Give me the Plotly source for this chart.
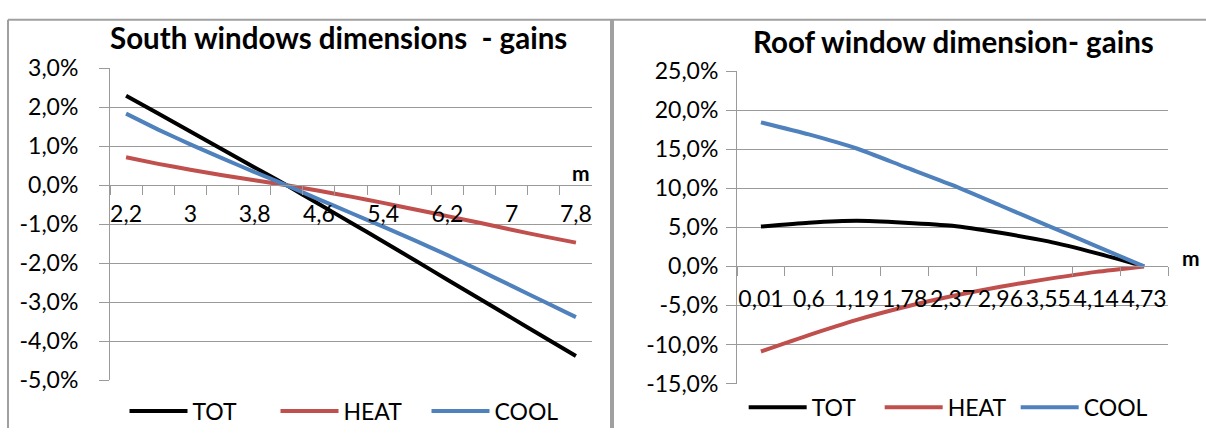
import plotly.graph_objects as go

# ---------------- data ----------------
south_labels = ["2,2", "2,6", "3", "3,4", "3,8", "4,2", "4,6", "5", "5,4", "5,8",
                "6,2", "6,6", "7", "7,4", "7,8"]
south_tot = [2.30, 1.84, 1.38, 0.92, 0.46, 0.00, -0.48, -0.96, -1.44, -1.93,
             -2.42, -2.91, -3.40, -3.89, -4.38]
south_heat = [0.72, 0.55, 0.40, 0.26, 0.13, 0.00, -0.14, -0.29, -0.45, -0.62,
              -0.79, -0.96, -1.14, -1.31, -1.47]
south_cool = [1.84, 1.43, 1.05, 0.69, 0.34, 0.00, -0.36, -0.71, -1.06, -1.42,
              -1.79, -2.18, -2.58, -2.98, -3.38]
south_yticks = [3, 2, 1, 0, -1, -2, -3, -4, -5]
south_yticktext = ["3,0%", "2,0%", "1,0%", "0,0%", "-1,0%", "-2,0%", "-3,0%", "-4,0%", "-5,0%"]

roof_labels = ["0,01", "0,6", "1,19", "1,78", "2,37", "2,96", "3,55", "4,14", "4,73"]
roof_tot = [5.1, 5.6, 5.85, 5.6, 5.2, 4.3, 3.2, 1.7, 0.0]
roof_heat = [-10.9, -8.8, -6.85, -5.2, -3.8, -2.6, -1.6, -0.7, 0.0]
roof_cool = [18.45, 16.9, 15.1, 12.75, 10.4, 7.8, 5.2, 2.6, 0.0]
roof_yticks = [25, 20, 15, 10, 5, 0, -5, -10, -15]
roof_yticktext = ["25,0%", "20,0%", "15,0%", "10,0%", "5,0%", "0,0%", "-5,0%", "-10,0%", "-15,0%"]

series_names = ["TOT", "HEAT", "COOL"]
series_colors = ["#000000", "#C0504D", "#4F81BD"]

title_left = "South windows dimensions\u00a0 - gains"
title_right = "Roof window dimension- gains"
axis_unit = "m"

# ---------------- layout geometry ----------------
W, H = 1206, 441
FONT = "Lato, Carlito, 'Open Sans', sans-serif"
GRID = "#9a9a9a"
FRAME = "#a0a0a0"

def px_x(v):
    return v / W

def px_y(v):
    return 1 - v / H

left_dom_x = [px_x(110), px_x(592)]
left_dom_y = [px_y(390), px_y(57)]
right_dom_x = [px_x(737), px_x(1168)]
right_dom_y = [px_y(393.5), px_y(60)]

left_range = [-5, 3]
right_range = [-15, 25]

def zero_pos(dom, rng):
    return dom[0] + (0 - rng[0]) / (rng[1] - rng[0]) * (dom[1] - dom[0])

fig = go.Figure()

for name, color, vals in zip(series_names, series_colors, [south_tot, south_heat, south_cool]):
    fig.add_trace(go.Scatter(x=south_labels, y=vals, name=name, mode="lines",
                             line=dict(color=color, width=4, shape="spline", smoothing=0.4),
                             xaxis="x", yaxis="y", legend="legend", hoverinfo="skip"))

for name, color, vals in zip(series_names, series_colors, [roof_tot, roof_heat, roof_cool]):
    fig.add_trace(go.Scatter(x=roof_labels, y=vals, name=name, mode="lines",
                             line=dict(color=color, width=4, shape="spline", smoothing=0.6),
                             xaxis="x2", yaxis="y2", legend="legend2", hoverinfo="skip"))

south_ticktext = [lab if i % 2 == 0 else "" for i, lab in enumerate(south_labels)]

TICKF = dict(family=FONT, size=23, color="#000")
common_x = dict(type="category", showgrid=False, zeroline=False, showline=True,
                linecolor=GRID, linewidth=1, ticks="outside", ticklen=9, tickcolor=GRID,
                tickwidth=1, tickson="boundaries", tickangle=0, autorange=False,
                tickfont=TICKF, fixedrange=True)
common_y = dict(showgrid=True, gridcolor=GRID, gridwidth=1, zeroline=False, showline=True,
                linecolor=GRID, linewidth=1, ticks="outside", ticklen=10, tickcolor=GRID,
                tickmode="array", tickfont=TICKF, fixedrange=True)

LEGF = dict(family=FONT, size=23, color="#000")

fig.update_layout(
    width=W, height=H,
    margin=dict(l=0, r=0, t=0, b=0),
    paper_bgcolor="white", plot_bgcolor="white",
    showlegend=True,
    xaxis=dict(common_x, domain=left_dom_x, anchor="free",
               position=zero_pos(left_dom_y, left_range),
               range=[-0.5, len(south_labels) - 0.5],
               tickmode="array", tickvals=south_labels, ticktext=south_ticktext,
               ticklabelstandoff=8),
    yaxis=dict(common_y, domain=left_dom_y, range=left_range, anchor="x",
               tickvals=south_yticks, ticktext=south_yticktext, ticklabelstandoff=16),
    xaxis2=dict(common_x, domain=right_dom_x, anchor="free",
                position=zero_pos(right_dom_y, right_range),
                range=[-0.5, len(roof_labels) - 0.5],
                tickmode="array", tickvals=roof_labels, ticktext=roof_labels,
                ticklabelstandoff=12),
    yaxis2=dict(common_y, domain=right_dom_y, range=right_range, anchor="x2",
                tickvals=roof_yticks, ticktext=roof_yticktext, ticklabelstandoff=3),
    legend=dict(orientation="h", x=(left_dom_x[0] + left_dom_x[1]) / 2, xanchor="center",
                y=px_y(423), yanchor="middle", font=LEGF,
                itemwidth=58, entrywidth=78, entrywidthmode="pixels",
                bgcolor="rgba(0,0,0,0)", traceorder="normal"),
    legend2=dict(orientation="h", x=(right_dom_x[0] + right_dom_x[1]) / 2 - 0.004, xanchor="center",
                 y=px_y(419), yanchor="middle", font=LEGF,
                 itemwidth=58, entrywidth=63, entrywidthmode="pixels",
                 bgcolor="rgba(0,0,0,0)", traceorder="normal"),
)

# chart titles and axis unit labels
fig.add_annotation(text="<b>" + title_left + "</b>", xref="paper", yref="paper",
                   x=px_x(338), y=px_y(24), xanchor="center", yanchor="middle",
                   showarrow=False, font=dict(family=FONT, size=29.5, color="#000"))
fig.add_annotation(text="<b>" + title_right + "</b>", xref="paper", yref="paper",
                   x=px_x(954), y=px_y(28), xanchor="center", yanchor="middle",
                   showarrow=False, font=dict(family=FONT, size=29.5, color="#000"))
fig.add_annotation(text="<b>" + axis_unit + "</b>", xref="x domain", yref="y",
                   x=1.0, y=0, xanchor="right", yanchor="bottom", yshift=-2,
                   showarrow=False, font=dict(family=FONT, size=21, color="#000"))
fig.add_annotation(text="<b>" + axis_unit + "</b>", xref="x2 domain", yref="y2",
                   x=1.0, y=0, xanchor="left", yanchor="bottom", xshift=12, yshift=-6,
                   showarrow=False, font=dict(family=FONT, size=21, color="#000"))

# frame lines around the two chart boxes
fig.add_shape(type="line", xref="paper", yref="paper", x0=px_x(8), x1=1, y0=px_y(5), y1=px_y(5),
              line=dict(color=FRAME, width=2))
fig.add_shape(type="line", xref="paper", yref="paper", x0=px_x(8), x1=px_x(8), y0=0, y1=px_y(5),
              line=dict(color=FRAME, width=2))
fig.add_shape(type="line", xref="paper", yref="paper", x0=px_x(612), x1=px_x(612), y0=0, y1=px_y(5),
              line=dict(color=FRAME, width=4))

fig.write_html("out.html", config={"displayModeBar": False},
               post_script="document.body.style.margin='0';document.body.style.overflow='hidden';")
